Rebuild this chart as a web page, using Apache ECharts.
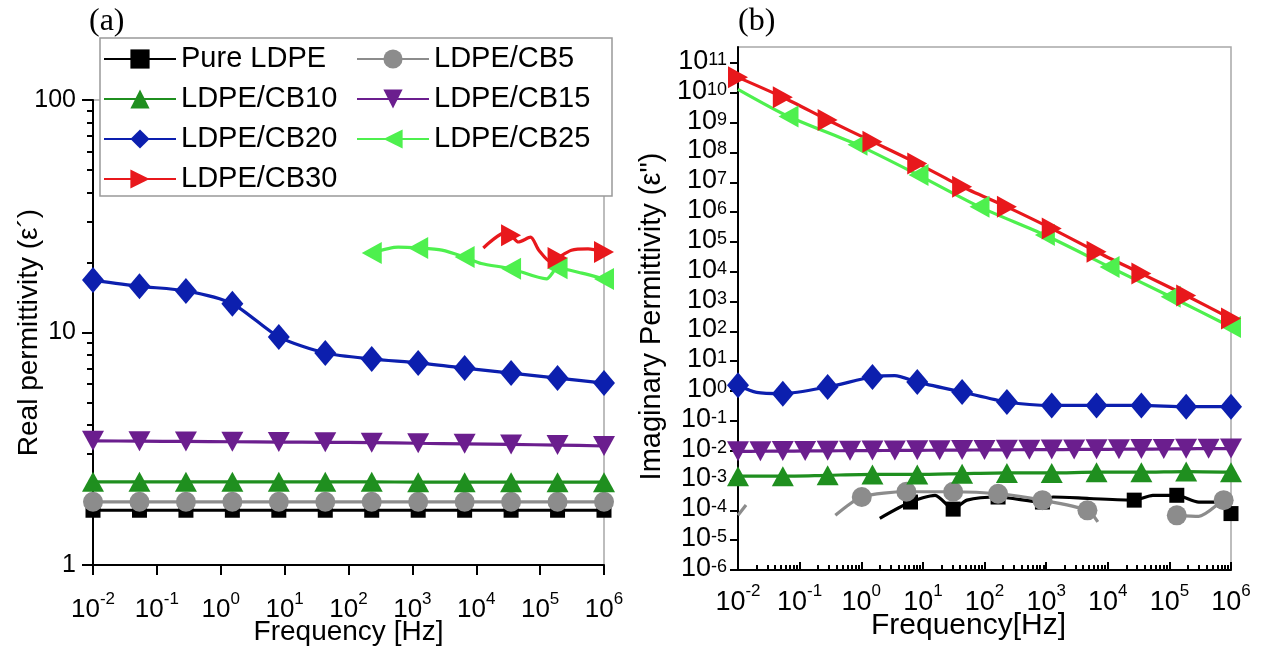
<!DOCTYPE html>
<html><head><meta charset="utf-8">
<script src="https://cdn.jsdelivr.net/npm/echarts@6/dist/echarts.min.js"></script>
<style>html,body{margin:0;padding:0;background:#fff}#c{width:1265px;height:651px}</style>
</head><body><div id="c"></div>
<script>
// ---------- names / ticks ----------
const seriesNames = ['Pure LDPE','LDPE/CB5','LDPE/CB10','LDPE/CB15','LDPE/CB20','LDPE/CB25','LDPE/CB30'];
const freqTickExps = [-2,-1,0,1,2,3,4,5,6];
const realTickLabels = ['1','10','100'];
const imagTickExps = [-6,-5,-4,-3,-2,-1,0,1,2,3,4,5,6,7,8,9,10,11];

// ---------- panel (a): real permittivity ----------
const fMark = [0.01, 0.0534, 0.285, 1.52, 8.11, 43.3, 231, 1233, 6579, 35112, 187382, 1000000];
const a_pure = [1.72,1.72,1.72,1.72,1.72,1.72,1.72,1.72,1.72,1.72,1.72,1.72];
const a_cb5  = [1.87,1.87,1.87,1.87,1.87,1.87,1.87,1.87,1.87,1.87,1.87,1.87];
const a_cb10 = [2.28,2.28,2.28,2.28,2.28,2.28,2.28,2.27,2.27,2.27,2.27,2.27];
const a_cb15 = [3.42,3.41,3.40,3.39,3.38,3.37,3.36,3.34,3.32,3.30,3.28,3.25];
const a_cb20 = [16.8,15.8,15.1,13.3,9.57,8.16,7.69,7.40,7.03,6.69,6.37,6.06];
const a_cb25_f = [231, 600, 1233, 2900, 6579, 12000, 35112, 126000, 187382, 450000, 1000000];
const a_cb25   = [22.0, 23.3, 23.1, 22.6, 21.1, 19.8, 18.8, 17.0, 18.9, 18.0, 17.0];
const a_cb25_m = [1,0,1,0,1,0,1,0,1,0,1];
const a_cb30_f = [12900, 29500, 35112, 45700, 70800, 95500, 148000, 187382, 309000, 562000, 1000000];
const a_cb30   = [23.1, 27.0, 26.2, 24.5, 25.7, 22.6, 20.1, 20.9, 22.6, 22.9, 22.2];
const a_cb30_m = [0,0,1,0,0,0,0,1,0,0,1];

// ---------- panel (b): imaginary permittivity ----------
const b_pure_f = [2.0, 6.3, 15.8, 31, 52, 166, 871, 1290, 5000, 26900, 54000, 132000, 300000, 760000, 1000000];
const b_pure   = [5.4e-5, 1.9e-4, 3.2e-4, 1.1e-4, 2.2e-4, 2.8e-4, 1.9e-4, 2.8e-4, 2.5e-4, 2.2e-4, 3.2e-4, 3.2e-4, 1.9e-4, 1.9e-4, 7.8e-5];
const b_pure_m = [0,1,0,1,0,1,1,0,0,1,0,1,0,0,1];
const b_cb5_f = [0.01, 0.0135, 0.05, 0.38, 1.02, 5.4, 31, 166, 871, 4680, 6900, 20000, 132000, 300000, 760000, 1000000];
const b_cb5   = [6.8e-5, 1.5e-4, null, 6.8e-5, 2.8e-4, 4.2e-4, 4.2e-4, 3.6e-4, 2.2e-4, 1.0e-4, 4.1e-5, null, 6.8e-5, 6.3e-5, 2.2e-4, 2.4e-4];
const b_cb5_m = [0,0,0,0,1,1,1,1,1,1,0,0,1,0,1,0];
const b_cb10 = [0.0014,0.0014,0.0015,0.0016,0.0016,0.0017,0.0018,0.0018,0.0019,0.0019,0.0020,0.0019];
const b_cb15_f = [0.01, 0.0231, 0.0533, 0.123, 0.285, 0.658, 1.52, 3.51, 8.11, 18.7, 43.3, 100, 231, 534, 1233, 2848, 6579, 15200, 35100, 81100, 187000, 433000, 1000000];
const b_cb15   = [0.0095,0.0096,0.0097,0.0098,0.0099,0.0100,0.0101,0.0102,0.0103,0.0104,0.0105,0.0106,0.0107,0.0108,0.0109,0.0110,0.0111,0.0112,0.0113,0.0114,0.0116,0.0117,0.0118];
const b_cb20_f = [0.01, 0.02, 0.0534, 0.285, 1.52, 3.5, 8.11, 43.3, 231, 1233, 6579, 35112, 187382, 1000000];
const b_cb20   = [1.57, 0.90, 0.82, 1.38, 2.95, 3.3, 2.0, 0.93, 0.43, 0.33, 0.33, 0.33, 0.30, 0.30];
const b_cb20_m = [1,0,1,1,1,0,1,1,1,1,1,1,1,1];
const b_cb25_f = [0.01, 0.066, 0.87, 8.5, 83, 955, 10700, 105000, 1000000];
const b_cb25   = [1.3e10, 1.6e9, 1.8e8, 1.74e7, 1.5e6, 1.7e5, 1.45e4, 1.45e3, 141];
const b_cb25_m = [0,1,1,1,1,1,1,1,1];
const b_cb30 = [3.3e10, 7.1e9, 1.23e9, 2.3e8, 4.3e7, 7.1e6, 1.5e6, 2.8e5, 4.7e4, 8.7e3, 1.6e3, 270];

// ---------- styles ----------
const FONT = '"Liberation Sans", Arial, sans-serif';
const styles = {
  'Pure LDPE': {color:'#000000', symbol:'rect', size:15, rot:0},
  'LDPE/CB5':  {color:'#8c8c8c', symbol:'circle', size:20, rot:0},
  'LDPE/CB10': {color:'#1f8f1f', symbol:'triangle', size:[22,20], rot:0},
  'LDPE/CB15': {color:'#6b1e8e', symbol:'triangle', size:[22,20], rot:180},
  'LDPE/CB20': {color:'#0c1fae', symbol:'diamond', size:[22,26], rot:0},
  'LDPE/CB25': {color:'#4ef04e', symbol:'triangle', size:[22,20], rot:90},
  'LDPE/CB30': {color:'#e8181c', symbol:'triangle', size:[22,20], rot:-90}
};

function pts(f, v, m) {
  return f.map((x, i) => {
    const it = {value: [x, v[i] == null ? '-' : v[i]]};
    if (m && !m[i]) it.symbol = 'none';
    return it;
  });
}
function line(name, panel, f, v, m) {
  const s = styles[name];
  return {
    type: 'line', name, xAxisIndex: panel, yAxisIndex: panel,
    data: pts(f, v, m), symbol: s.symbol, symbolSize: s.size, symbolRotate: s.rot,
    showAllSymbol: true, smooth: 0.25, connectNulls: false,
    lineStyle: {width: 3.2, color: s.color}, itemStyle: {color: s.color},
    emphasis: {disabled: true}
  };
}
const sup = (b, s) => '{b|' + b + '}{s|' + s + '}';
function richLabels(bs, ss) {
  return {b: {fontSize: bs, fontFamily: FONT, color: '#000', lineHeight: bs + 6, verticalAlign: 'bottom'},
          s: {fontSize: ss, fontFamily: FONT, color: '#000', lineHeight: ss, verticalAlign: 'top'}};
}
const richCompact = {
  b: {fontSize: 27, fontFamily: FONT, color: '#000', lineHeight: 24, verticalAlign: 'bottom'},
  s: {fontSize: 18, fontFamily: FONT, color: '#000', lineHeight: 8, verticalAlign: 'top'}
};
const expOf = v => Math.round(Math.log10(v));

const series = [
  line('Pure LDPE', 0, fMark, a_pure),
  line('LDPE/CB5', 0, fMark, a_cb5),
  line('LDPE/CB10', 0, fMark, a_cb10),
  line('LDPE/CB15', 0, fMark, a_cb15),
  line('LDPE/CB20', 0, fMark, a_cb20),
  line('LDPE/CB25', 0, a_cb25_f, a_cb25, a_cb25_m),
  line('LDPE/CB30', 0, a_cb30_f, a_cb30, a_cb30_m),
  line('Pure LDPE', 1, b_pure_f, b_pure, b_pure_m),
  line('LDPE/CB5', 1, b_cb5_f, b_cb5, b_cb5_m),
  line('LDPE/CB10', 1, fMark, b_cb10),
  line('LDPE/CB15', 1, b_cb15_f, b_cb15),
  line('LDPE/CB20', 1, b_cb20_f, b_cb20, b_cb20_m),
  line('LDPE/CB25', 1, b_cb25_f, b_cb25, b_cb25_m),
  line('LDPE/CB30', 1, fMark, b_cb30)
];

const axisLine = {show: true, onZero: false, lineStyle: {color: '#000', width: 2}};
const option = {
  animation: false,
  backgroundColor: '#fff',
  title: [
    {text: '(a)', left: 84, top: 1, textStyle: {fontFamily: '"Liberation Serif", "Times New Roman", serif', fontSize: 32, fontWeight: 'normal', color: '#000'}},
    {text: '(b)', left: 733, top: 1, textStyle: {fontFamily: '"Liberation Serif", "Times New Roman", serif', fontSize: 32, fontWeight: 'normal', color: '#000'}}
  ],
  legend: {
    data: seriesNames, left: 100, top: 38, width: 500, orient: 'horizontal',
    itemWidth: 72, itemHeight: 24, itemGap: 10, padding: [6, 13, 2, 3],
    backgroundColor: '#fff', borderColor: '#999', borderWidth: 1.5, selectedMode: false,
    textStyle: {fontFamily: FONT, fontSize: 29, color: '#000', width: 165, lineHeight: 30}
  },
  grid: [
    {left: 93, right: 661, top: 100, bottom: 86, show: true, borderColor: '#a8a8a8', borderWidth: 1.5, containLabel: false},
    {left: 738, right: 34, top: 63, bottom: 81, show: false, containLabel: false},
    {left: 738, right: 34, top: 47, bottom: 81, show: true, borderColor: '#a8a8a8', borderWidth: 1.5, containLabel: false}
  ],
  xAxis: [
    {type: 'log', gridIndex: 0, min: 0.01, max: 1e6, logBase: 10, interval: 1,
     name: 'Frequency [Hz]', nameLocation: 'middle', nameGap: 53, nameMoveOverlap: false,
     nameTextStyle: {fontFamily: FONT, fontSize: 28, color: '#000'},
     axisLine, axisTick: {show: true, length: 10, lineStyle: {color: '#000', width: 2}},
     minorTick: {show: false}, splitLine: {show: false},
     axisLabel: {margin: 26, showMinLabel: true, showMaxLabel: true, formatter: v => sup('10', expOf(v)), rich: richLabels(26, 17)}},
    {type: 'log', gridIndex: 1, min: 0.01, max: 1e6, logBase: 10, interval: 1,
     name: 'Frequency[Hz]', nameLocation: 'middle', nameGap: 41, nameMoveOverlap: false,
     nameTextStyle: {fontFamily: FONT, fontSize: 30, color: '#000', padding: [0, 32, 0, 0]},
     axisLine, axisTick: {show: true, inside: true, length: 8, lineStyle: {color: '#000', width: 2}},
     minorTick: {show: true, splitNumber: 9, length: 5, lineStyle: {color: '#000', width: 2}}, splitLine: {show: false},
     axisLabel: {margin: 13, showMinLabel: true, showMaxLabel: true, formatter: v => sup('10', expOf(v)), rich: richLabels(27, 17)}},
    {type: 'value', gridIndex: 2, show: false}
  ],
  yAxis: [
    {type: 'log', gridIndex: 0, min: 1, max: 100, logBase: 10, interval: 1,
     name: 'Real permittivity (ε´)', nameLocation: 'middle', nameGap: 50, nameMoveOverlap: false,
     nameTextStyle: {fontFamily: FONT, fontSize: 28, color: '#000'},
     axisLine, axisTick: {show: true, length: 11, lineStyle: {color: '#000', width: 2}},
     minorTick: {show: true, splitNumber: 9, length: 6, lineStyle: {color: '#000', width: 2}}, splitLine: {show: false},
     axisLabel: {margin: 17, fontFamily: FONT, fontSize: 25, color: '#000', showMinLabel: true, showMaxLabel: true,
                 formatter: v => realTickLabels[expOf(v)]}},
    {type: 'log', gridIndex: 1, min: 1e-6, max: 1e11, logBase: 10, interval: 1,
     name: 'Imaginary Permittivity (ε")', nameLocation: 'middle', nameGap: 72, nameMoveOverlap: false,
     nameTextStyle: {fontFamily: FONT, fontSize: 29, color: '#000'},
     axisLine, axisTick: {show: true, length: 8, lineStyle: {color: '#000', width: 2}},
     minorTick: {show: false}, splitLine: {show: false},
     axisLabel: {margin: 11, showMinLabel: true, showMaxLabel: true, hideOverlap: false, minMargin: 0,
                 formatter: v => imagTickExps.includes(expOf(v)) ? sup('10', expOf(v)) : '', rich: richCompact}},
    {type: 'value', gridIndex: 2, axisLine, axisTick: {show: false}, axisLabel: {show: false}, splitLine: {show: false}}
  ],
  series
};
const chart = echarts.init(document.getElementById('c'), null, {renderer: 'canvas'});
chart.setOption(option);
</script>
</body></html>
